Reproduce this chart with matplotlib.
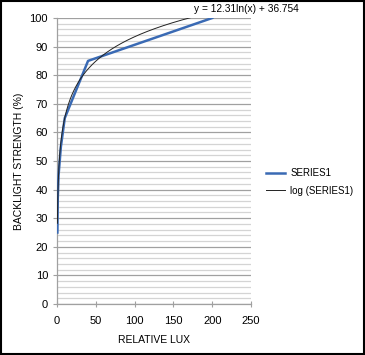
import numpy as np
import matplotlib
matplotlib.use("Agg")
import matplotlib.pyplot as plt
from matplotlib.patches import Rectangle

plt.rcParams['font.family'] = ['Liberation Sans', 'DejaVu Sans']

lux = [0.5, 1, 2, 5, 10, 40, 200]
strength = [25, 37, 45, 55, 65, 85, 100]
fit_a = 12.31
fit_b = 36.754
x_ticks = [0, 50, 100, 150, 200, 250]
y_ticks = [0, 10, 20, 30, 40, 50, 60, 70, 80, 90, 100]

fig = plt.figure(figsize=(3.65, 3.55), dpi=100)
ax = fig.add_axes([57/365, 1-304/355, (251-57)/365, (304-18)/355])

# gridlines
for y in np.arange(0, 101, 2):
    if y % 10 == 0:
        ax.axhline(y, color='#a0a0a0', lw=0.9, zorder=1)
    else:
        ax.axhline(y, color='#d4d4d4', lw=0.9, zorder=1)

xf = np.linspace(min(lux), max(lux), 2000)
yf = fit_a * np.log(xf) + fit_b
ax.plot(lux, strength, color='#3a6ab4', lw=1.8, zorder=3, label='SERIES1')
ax.plot(xf, yf, color='#222222', lw=0.7, zorder=4, label='log (SERIES1)')

ax.set_xlim(0, 250)
ax.set_ylim(0, 100)
ax.set_xticks(x_ticks)
ax.set_yticks(y_ticks)
for s in ['top', 'right']:
    ax.spines[s].set_visible(False)
for s in ['left', 'bottom']:
    ax.spines[s].set_color('#a0a0a0')
    ax.spines[s].set_linewidth(0.9)
ax.tick_params(colors='#a0a0a0', labelcolor='black', labelsize=8, length=3, width=0.8)
ax.tick_params(axis='x', direction='inout', length=4, pad=7)
ax.set_xlabel('RELATIVE LUX', fontsize=7.5, labelpad=6)
ax.set_ylabel('BACKLIGHT STRENGTH (%)', fontsize=7.5, labelpad=4)

fig.text(246/365, 1-9/355, 'y = 12.31ln(x) + 36.754', fontsize=7.3, ha='center', va='center')

leg = fig.legend(loc='center left', bbox_to_anchor=(266/365, 1-182/355), frameon=False,
                 fontsize=7, handlelength=2.0, handletextpad=0.5, labelspacing=0.75,
                 borderpad=0, borderaxespad=0)

fig.patches.append(Rectangle((0.002, 0.002), 0.996, 0.996, transform=fig.transFigure,
                             fill=False, edgecolor='black', lw=1.5))
fig.savefig('out.png', dpi=100)
